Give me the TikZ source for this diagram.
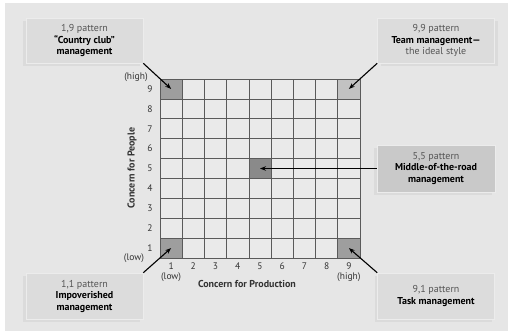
\documentclass[tikz,border=0pt]{standalone}
\usepackage{fontspec}
\setmainfont{PT Sans}
\usetikzlibrary{arrows.meta}
\definecolor{bgc}{HTML}{E6E6E6}
\definecolor{boxc}{HTML}{DCDCDC}
\definecolor{midc}{HTML}{C9C9C9}
\definecolor{cellc}{HTML}{EAEAEA}
\definecolor{gridc}{HTML}{5A5A5A}
\definecolor{darkc}{HTML}{9E9E9E}
\definecolor{lightc}{HTML}{C2C2C2}
\definecolor{centc}{HTML}{8A8A8A}
\definecolor{txtc}{HTML}{555555}
\begin{document}
\begin{tikzpicture}[x=1pt,y=-1pt,
  lbl/.style={font=\fontsize{9.5}{10}\selectfont, text=black!80, inner sep=0pt},
  box/.style={draw=white!85!gray, line width=0.6pt, fill=boxc, minimum width=117pt, minimum height=45pt,
     align=center, font=\fontsize{10}{11.5}\selectfont, inner sep=0pt},
  shad/.style={fill=black!14},
  cellbox/.style={draw=gridc, line width=0.6pt, minimum width=22.222pt, minimum height=19.889pt, inner sep=0pt},
  arr/.style={-{Stealth[length=6pt,width=4.5pt]}, line width=1.1pt, black}]
\useasboundingbox (0,0) rectangle (512,335);
\fill[white] (0,0) rectangle (512,335);
\fill[bgc] (5,3) rectangle (508,331);
% grid
\fill[cellc] (160,79) rectangle (360,258);
\node[cellbox, fill=darkc] (c19) at (171.111,88.944) {};
\node[cellbox, fill=lightc] (c99) at (348.889,88.944) {};
\node[cellbox, fill=darkc] (c11) at (171.111,248.056) {};
\node[cellbox, fill=darkc] (c91) at (348.889,248.056) {};
\node[cellbox, fill=centc] (c55) at (260,168.5) {};
\foreach \i in {0,...,9} {
  \draw[gridc, line width=0.6pt] ({160+\i*22.2222},79) -- ({160+\i*22.2222},258);
  \draw[gridc, line width=0.6pt] (160,{79+\i*19.8889}) -- (360,{79+\i*19.8889});
}
% axis labels
\foreach \j in {1,...,9} {
  \node[lbl] (y\j) at (150,{258-(\j-0.5)*19.8889}) {\j};
  \node[lbl] (x\j) at ({160+(\j-0.5)*22.2222},266) {\j};
}
\node[lbl] (yhigh) at (136,77) {(high)};
\node[lbl] (ylow) at (134,258) {(low)};
\node[lbl] (xlow) at (171.1,277.5) {(low)};
\node[lbl] (xhigh) at (348.9,277.5) {(high)};
\node[lbl, font=\fontsize{10}{10}\selectfont\bfseries] (xt) at (247,284) {Concern for Production};
\node[lbl, font=\fontsize{10}{10}\selectfont\bfseries, rotate=90] (yt) at (132,168) {Concern for People};
% shadows
\fill[shad] (23,21) rectangle (140,66);
\fill[shad] (381,21) rectangle (498,66);
\fill[shad] (23,276) rectangle (140,322);
\fill[shad] (374,148) rectangle (492,195);
\fill[shad] (375,276) rectangle (492,322);
% boxes
\node[box] (tl) at (84.5,40.5) {\textcolor{txtc}{1,9 pattern}\\\textbf{“Country club”}\\\textbf{management}};
\node[box] (tr) at (436,40.5) {\textcolor{txtc}{9,9 pattern}\\\textbf{Team management—}\\\textcolor{txtc}{the ideal style}};
\node[box, minimum height=46pt] (bl) at (84.5,296) {\textcolor{txtc}{1,1 pattern}\\\textbf{Impoverished}\\\textbf{management}};
\node[box, minimum height=46pt] (br) at (436,296) {\textcolor{txtc}{9,1 pattern}\\\textbf{Task management}};
\node[box, fill=midc, minimum width=118pt, minimum height=47pt] (mid) at (436,168.5) {\textcolor{txtc}{5,5 pattern}\\\textbf{Middle-of-the-road}\\\textbf{management}};
% arrows
\draw[arr] (tl.south east) -- (c19.center);
\draw[arr] (tr.south west) -- (c99.center);
\draw[arr] (bl.north east) -- (c11.center);
\draw[arr] (br.north west) -- (c91.center);
\draw[arr] (mid.west) -- (c55.center);
\end{tikzpicture}
\end{document}
